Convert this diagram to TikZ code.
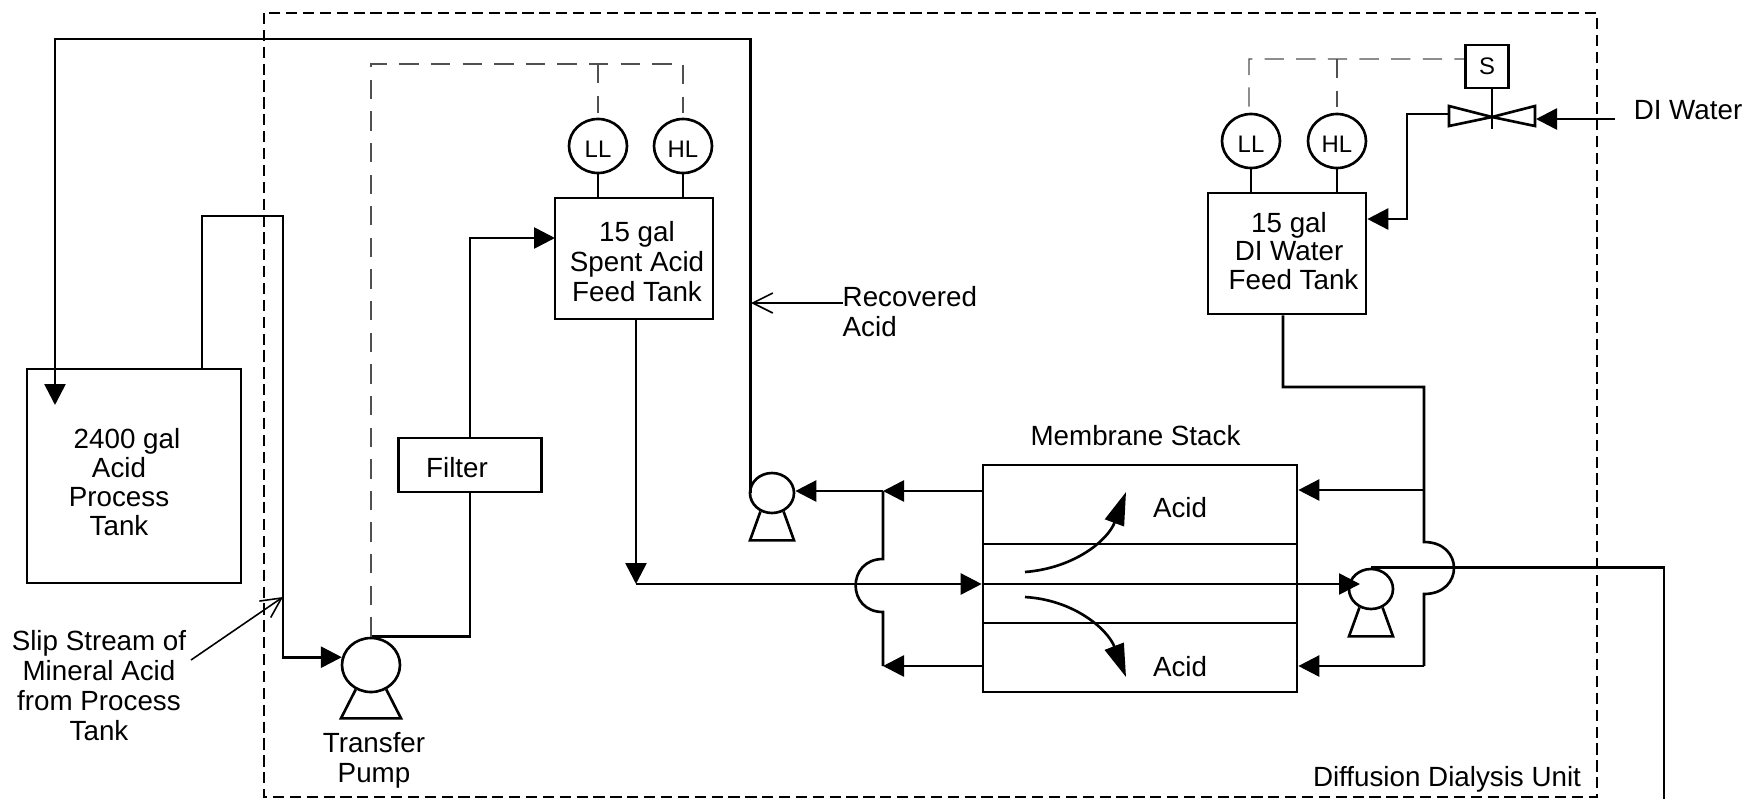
\documentclass[tikz,border=0pt]{standalone}
\usepackage{fontspec}
\setmainfont{Liberation Sans}
\usetikzlibrary{calc, arrows.meta, shapes.geometric}
\definecolor{signal}{RGB}{80,80,80}
\tikzset{
  pipe/.style={line width=0.75pt},
  flow/.style={pipe, -{Triangle[length=2.1mm,width=2.1mm]}},
  bigflow/.style={pipe, -{Triangle[length=3.3mm,width=2mm]}},
  barb/.style={line width=0.45pt, -{Straight Barb[length=2mm,width=2mm]}},
  signalline/.style={line width=0.35pt, color=signal, dash pattern=on 5.5pt off 3.5pt},
  unitline/.style={line width=0.7pt, dash pattern=on 3.2pt off 1.6pt},
  tankbox/.style={draw, line width=0.75pt, inner sep=0pt, align=center},
  gauge/.style={draw, ellipse, line width=0.75pt, inner sep=0pt, minimum width=0.58cm, minimum height=0.54cm, text height=6.5pt, font=\fontsize{6.8}{8}\selectfont},
  pumpbody/.style={draw, ellipse, line width=0.75pt, inner sep=0pt},
  caption/.style={inner sep=0pt, align=center}
}
\newcommand{\pumpfeet}[3]{\draw[pipe] (#1.238) -- ($(#1.south)+(-#2,#3)$) -- ($(#1.south)+(#2,#3)$) -- (#1.302);}
\begin{document}
\begin{tikzpicture}[y=-1cm, font=\fontsize{7.9}{8.53}\selectfont]
    \useasboundingbox (0,0) rectangle (17.49,7.99);

    % Unit boundary
    \draw[unitline] (2.64,0.13) rectangle (15.97,7.97);
    \node[caption] (unit) at (14.47,7.79) {Diffusion Dialysis Unit};

    % Process tank
    \node[tankbox, minimum width=2.14cm, minimum height=2.14cm] (tank) at (1.34,4.76) {};
    \node[caption, font=\fontsize{7.9}{8.2}\selectfont] (tanktext) at (1.19,4.82) {\hspace*{0.16cm}2400 gal\\Acid\\Process\\Tank};
    \node[caption] (slipnote) at (0.99,6.86) {Slip Stream of\\Mineral Acid\\from Process\\Tank};

    % Transfer pump and filter
    \node[pumpbody, minimum width=0.58cm, minimum height=0.54cm] (xfer) at (3.71,6.65) {};
    \pumpfeet{xfer}{0.30}{0.25}
    \node[caption] (xfertext) at (3.74,7.60) {Transfer\\Pump};
    \node[tankbox, minimum width=1.43cm, minimum height=0.54cm] (filter) at (4.70,4.65) {};
    \node[caption] (filtertext) at (4.57,4.68) {Filter};

    % Spent acid tank
    \node[tankbox, minimum width=1.58cm, minimum height=1.21cm] (spent) at (6.34,2.585) {};
    \node[caption] (spenttext) at (6.37,2.62) {15 gal\\Spent Acid\\Feed Tank};
    \node[gauge] (spentll) at (5.98,1.46) {LL};
    \node[gauge] (spenthl) at (6.83,1.46) {HL};
    \draw[pipe] (spentll) -- (spentll |- spent.north);
    \draw[pipe] (spenthl) -- (spenthl |- spent.north);

    % DI water tank and valve
    \node[tankbox, minimum width=1.58cm, minimum height=1.21cm] (ditank) at (12.87,2.535) {};
    \node[caption, font=\fontsize{7.9}{8.2}\selectfont] (ditext) at (12.89,2.51) {15 gal\\DI Water\\\hspace*{0.09cm}Feed Tank};
    \node[gauge] (dill) at (12.51,1.41) {LL};
    \node[gauge] (dihl) at (13.37,1.41) {HL};
    \draw[pipe] (dill) -- (dill |- ditank.north);
    \draw[pipe] (dihl) -- (dihl |- ditank.north);
    \node[draw, line width=0.75pt, minimum size=0.43cm, inner sep=0pt, font=\fontsize{6.8}{8}\selectfont] (sol) at (14.87,0.665) {S};
    \coordinate (valve) at (14.92,1.17);
    \coordinate (valvein) at (14.49,1.14);
    \coordinate (valveout) at (15.36,1.19);
    \draw[pipe] (valve) -- ++(-0.43,-0.11) -- ++(0,0.20) -- cycle;
    \draw[pipe] (valve) -- ++(0.43,-0.11) -- ++(0,0.20) -- cycle;
    \draw[pipe] (sol.south -| valve) -- ($(valve)+(0,0.12)$);
    \node[caption] (diwater) at (16.88,1.10) {DI Water};
    \coordinate (diin) at (16.15,1.19);
    \draw[flow] (diin) -- (valveout);
    \coordinate (vbend) at (14.07,2.19);
    \draw[flow] (valvein) -| (vbend) -- (ditank.east |- vbend);

    % Membrane stack
    \node[tankbox, minimum width=3.14cm, minimum height=2.27cm] (stack) at (11.40,5.785) {};
    \node[caption] (stacktext) at (11.355,4.36) {Membrane Stack};
    \node[caption] (acidtop) at (11.80,5.08) {Acid};
    \node[caption] (acidbot) at (11.80,6.67) {Acid};
    \coordinate (memtop) at (10.00,5.44);
    \coordinate (membot) at (10.00,6.23);
    \draw[pipe] (stack.west |- memtop) -- (stack.east |- memtop);
    \draw[pipe] (stack.west |- membot) -- (stack.east |- membot);
    \coordinate (upstart) at (10.25,5.72);
    \coordinate (uptip) at (11.26,4.92);
    \coordinate (downstart) at (10.25,5.97);
    \coordinate (downtip) at (11.26,6.77);
    \draw[bigflow] (upstart) .. controls (10.75,5.68) and (11.08,5.40) .. (uptip);
    \draw[bigflow] (downstart) .. controls (10.75,6.00) and (11.08,6.30) .. (downtip);

    % Small pumps
    \node[pumpbody, minimum width=0.44cm, minimum height=0.40cm] (recpump) at (7.72,4.93) {};
    \pumpfeet{recpump}{0.22}{0.26}
    \node[pumpbody, minimum width=0.44cm, minimum height=0.40cm] (permpump) at (13.71,5.89) {};
    \pumpfeet{permpump}{0.22}{0.26}

    % Slip stream from process tank
    \coordinate (slipa) at (2.02,2.16);
    \coordinate (slipb) at (2.83,2.16);
    \draw[flow] (tank.north -| slipa) -- (slipa) -- (slipb) |- (xfer.165);
    \coordinate (slipin) at (1.91,6.60);
    \coordinate (sliptip) at (2.83,5.97);
    \draw[barb] (slipin) -- (sliptip);

    % Pump to filter to spent tank
    \draw[pipe] (xfer.north) -| (filter.south);
    \coordinate (spentin) at (5.55,2.38);
    \draw[flow] (filter.north) |- (spentin);

    % Level signals
    \coordinate (sigtop) at (6.83,0.64);
    \draw[signalline] (xfer.north) |- (sigtop) -- ($(spenthl.north)+(0,-0.05)$);
    \draw[signalline] (spentll.north |- sigtop) -- ($(spentll.north)+(0,-0.05)$);
    \coordinate (ditop) at (12.49,0.59);
    \draw[signalline] ($(dill.north)+(-0.02,-0.06)$) -- (ditop) -- (sol.west |- ditop);
    \draw[signalline] (dihl.north |- ditop) -- ($(dihl.north)+(0,-0.06)$);

    % Feed through stack
    \coordinate (feedtee) at (6.36,5.84);
    \draw[flow] (spent.south -| feedtee) -- (feedtee);
    \draw[flow] (feedtee) -- (stack.west |- feedtee);
    \coordinate (permtip) at (13.60,5.84);
    \draw[flow] (stack.west |- feedtee) -- (permtip);

    % Recovered acid side
    \coordinate (tee) at (8.83,4.91);
    \coordinate (teebot) at (8.83,6.66);
    \draw[flow] (stack.west |- tee) -- (tee);
    \draw[flow] (stack.west |- teebot) -- (teebot);
    \draw[flow] (tee) -- (recpump.east |- tee);
    \draw[pipe] (tee) -- (8.83,5.59) .. controls (8.465,5.59) and (8.465,6.12) .. (8.83,6.12) -- (teebot);
    \coordinate (retcorner) at (0.55,0.39);
    \coordinate (tanktip) at (0.55,4.05);
    \draw[flow] ([xshift=0.02cm]recpump.west) |- (retcorner) -- (tanktip);
    \node[caption, anchor=west, align=left] (recnote) at (8.42,3.115) {Recovered\\Acid};
    \coordinate (recin) at (8.43,3.03);
    \coordinate (rectip) at (7.51,3.03);
    \draw[barb] (recin) -- (rectip);

    % DI water into stack
    \coordinate (dicorner) at (14.24,3.87);
    \coordinate (ditee) at (14.24,4.90);
    \coordinate (dibot) at (14.24,6.66);
    \draw[pipe] ([xshift=-0.04cm]ditank.south) |- (dicorner) -- (14.24,5.42) .. controls (14.64,5.42) and (14.64,5.94) .. (14.24,5.94) -- (dibot);
    \draw[flow] (ditee) -- (stack.east |- ditee);
    \draw[flow] (dibot) -- (stack.east |- dibot);

    % Outlet
    \coordinate (outend) at (16.64,7.99);
    \draw[pipe] (permpump.north) -| (outend);
  \end{tikzpicture}
\end{document}
